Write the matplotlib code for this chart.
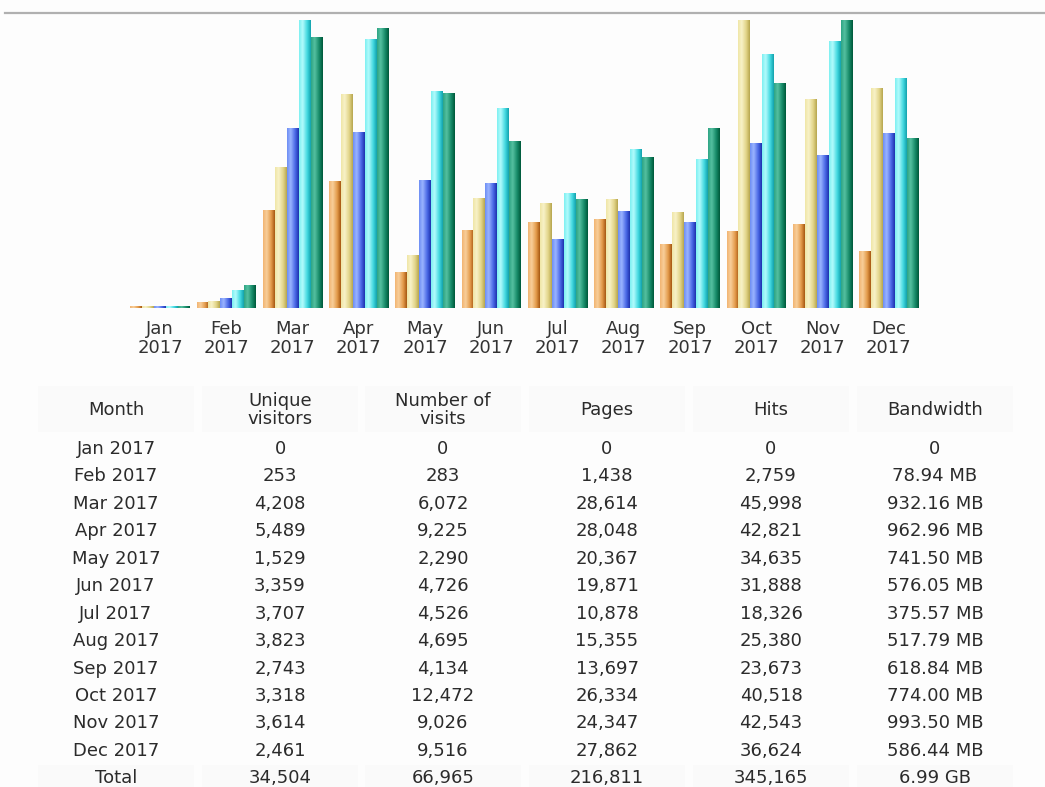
import numpy as np
import matplotlib
matplotlib.use("Agg")
import matplotlib.pyplot as plt
from matplotlib.colors import to_rgb
from matplotlib.lines import Line2D
from matplotlib.patches import Rectangle

months = ["Jan", "Feb", "Mar", "Apr", "May", "Jun", "Jul", "Aug", "Sep", "Oct", "Nov", "Dec"]
year = "2017"

unique_visitors = [0, 253, 4208, 5489, 1529, 3359, 3707, 3823, 2743, 3318, 3614, 2461]
visits = [0, 283, 6072, 9225, 2290, 4726, 4526, 4695, 4134, 12472, 9026, 9516]
pages = [0, 1438, 28614, 28048, 20367, 19871, 10878, 15355, 13697, 26334, 24347, 27862]
hits = [0, 2759, 45998, 42821, 34635, 31888, 18326, 25380, 23673, 40518, 42543, 36624]
bandwidth_mb = [0, 78.94, 932.16, 962.96, 741.50, 576.05, 375.57, 517.79, 618.84, 774.00, 993.50, 586.44]
bandwidth_txt = ["0", "78.94 MB", "932.16 MB", "962.96 MB", "741.50 MB", "576.05 MB",
                 "375.57 MB", "517.79 MB", "618.84 MB", "774.00 MB", "993.50 MB", "586.44 MB"]
totals = ["Total", "34,504", "66,965", "216,811", "345,165", "6.99 GB"]
headers = ["Month", "Unique\nvisitors", "Number of\nvisits", "Pages", "Hits", "Bandwidth"]

# gradient colours per series: (light left, highlight, mid, dark right)
grads = [
    ["#f2b573", "#f8cf9a", "#e39a4a", "#a85a14"],
    ["#f0e6a8", "#f8f2c8", "#e2d488", "#b8a850"],
    ["#6f8ff5", "#9ab4ff", "#4a68e6", "#1f34b0"],
    ["#7ff0f2", "#b2fbfc", "#42d8e0", "#14a4ae"],
    ["#2fa585", "#55c0a0", "#168a68", "#005a3c"],
]

# awstats style scaling: visitors+visits share a max, pages+hits share a max
vmax = max(max(unique_visitors), max(visits))
hmax = max(max(pages), max(hits))
bmax = max(bandwidth_mb)
scaled = [
    np.array(unique_visitors) / vmax,
    np.array(visits) / vmax,
    np.array(pages) / hmax,
    np.array(hits) / hmax,
    np.array(bandwidth_mb) / bmax,
]


def gradient(cols, n=24):
    stops = [0.0, 0.3, 0.7, 1.0]
    rgb = np.array([to_rgb(c) for c in cols])
    t = np.linspace(0, 1, n)
    out = np.stack([np.interp(t, stops, rgb[:, k]) for k in range(3)], axis=-1)
    return out[np.newaxis, :, :]


fig = plt.figure(figsize=(10.45, 7.87), dpi=100)
fig.patch.set_facecolor("#fdfdfd")
W, H = 1045, 787

# top grey rule
fig.add_artist(Line2D([5 / W, 1.0], [1 - 13 / H, 1 - 13 / H], color="#b0b0b0", lw=1.6))

ax = fig.add_axes([127 / W, 1 - 308 / H, (922 - 127) / W, (308 - 20) / H])
ax.set_facecolor("#fdfdfd")
bw = 0.18
for s in range(5):
    g = gradient(grads[s])
    for i in range(12):
        h = max(scaled[s][i], 0.006)
        x0 = i + (s - 2.5) * bw
        ax.imshow(g, extent=(x0, x0 + bw, 0, h), aspect="auto", interpolation="bilinear", zorder=2)
ax.set_xlim(-0.5, 11.5)
ax.set_ylim(0, 1)
for sp in ax.spines.values():
    sp.set_visible(False)
ax.set_yticks([])
ax.set_xticks(range(12))
ax.set_xticklabels([f"{m}\n{year}" for m in months], fontsize=13, color="#333333", linespacing=1.05)
ax.tick_params(axis="x", length=0, pad=9)

# table
col_x = [116, 280, 443, 607, 771, 935]
col_w = 160
row_y = [449 + 27.45 * k for k in range(13)]
fs = 13
tc = "#2b2b2b"

for j, hd in enumerate(headers):
    fig.add_artist(Rectangle(((col_x[j] - col_w / 2 + 2) / W, 1 - 432 / H), (col_w - 4) / W, 46 / H,
                             transform=fig.transFigure, facecolor="#fafafa", edgecolor="none"))
    fig.text(col_x[j] / W, 1 - 410 / H, hd, ha="center", va="center", fontsize=fs, color=tc,
             linespacing=1.0)

for i in range(12):
    vals = [f"{months[i]} {year}", f"{unique_visitors[i]:,}", f"{visits[i]:,}",
            f"{pages[i]:,}", f"{hits[i]:,}", bandwidth_txt[i]]
    for j, v in enumerate(vals):
        fig.text(col_x[j] / W, 1 - row_y[i] / H, v, ha="center", va="center", fontsize=fs, color=tc)

for j, v in enumerate(totals):
    fig.add_artist(Rectangle(((col_x[j] - col_w / 2 + 2) / W, 1 - 792 / H), (col_w - 4) / W, 27 / H,
                             transform=fig.transFigure, facecolor="#fafafa", edgecolor="none"))
    fig.text(col_x[j] / W, 1 - row_y[12] / H, v, ha="center", va="center", fontsize=fs, color=tc)

fig.savefig("out.png", dpi=100, facecolor=fig.get_facecolor())
